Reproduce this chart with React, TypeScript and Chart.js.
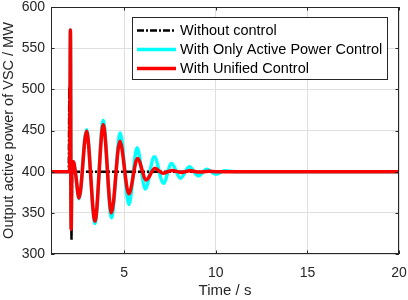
import React, { useEffect, useRef } from "react";
import { Chart, registerables } from "chart.js";

Chart.register(...registerables);

// ---- data ----
const timeWithout = [1, 1.97, 2.0, 2.12, 2.15, 20];
const powerWithout = [400, 400, 503, 317, 400, 400];

const timeActive = [1, 2.02, 2.06, 2.1, 2.14, 2.22, 2.35, 2.53, 2.94, 3.4, 3.85, 4.3, 4.78, 5.25, 5.7, 6.15, 6.64, 7.14, 7.58, 8.07, 8.55, 9.04, 9.5, 10.0, 10.5, 11.0, 20];
const powerActive = [400, 400, 572, 330, 405, 412, 396, 367, 451, 337, 462, 344, 447, 360, 429, 379, 418, 386, 410, 392, 406, 395, 403, 397, 401, 400, 400];

const timeUnified = [1, 2.02, 2.06, 2.1, 2.14, 2.22, 2.35, 2.53, 2.94, 3.4, 3.85, 4.3, 4.76, 5.25, 5.72, 6.2, 6.67, 7.1, 7.6, 8.1, 8.6, 9.1, 9.6, 10.1, 20];
const powerUnified = [400, 400, 572, 330, 405, 412, 396, 368, 449, 340, 457, 350, 437, 373, 416, 390, 404, 398, 401.5, 399, 401, 399.5, 400.5, 400, 400];

const seriesNames = ["Without control", "With Only Active Power Control", "With Unified Control"];
const xTicks = [5, 10, 15, 20];
const yTicks = [300, 350, 400, 450, 500, 550, 600];
const xLabel = "Time / s";
const yLabel = "Output active power of VSC / MW";

const FONT = "'Liberation Sans', Arial, Helvetica, sans-serif";
const AXIS = "#262626";

const toPoints = (xs: number[], ys: number[]) => xs.map((x, i) => ({ x, y: ys[i] }));

const boxPlugin = {
  id: "matlabBox",
  afterDatasetsDraw(chart: any) {
    const { ctx, chartArea: a, scales } = chart;
    ctx.save();
    ctx.strokeStyle = AXIS;
    ctx.lineWidth = 1;
    ctx.strokeRect(Math.round(a.left) + 0.5, Math.round(a.top) + 0.5, Math.round(a.right - a.left) - 1, Math.round(a.bottom - a.top) - 1);
    const tl = 3.5;
    ctx.beginPath();
    xTicks.forEach((v) => {
      const px = Math.round(scales.x.getPixelForValue(v)) + 0.5;
      ctx.moveTo(px, a.bottom);
      ctx.lineTo(px, a.bottom - tl);
      ctx.moveTo(px, a.top);
      ctx.lineTo(px, a.top + tl);
    });
    yTicks.forEach((v) => {
      const py = Math.round(scales.y.getPixelForValue(v)) + 0.5;
      ctx.moveTo(a.left, py);
      ctx.lineTo(a.left + tl, py);
      ctx.moveTo(a.right, py);
      ctx.lineTo(a.right - tl, py);
    });
    ctx.stroke();

    // legend (inside the axes, top right)
    const lx = 132.5, ly = 17.5, lw = 255, lh = 62;
    ctx.fillStyle = "#ffffff";
    ctx.fillRect(lx, ly, lw, lh);
    ctx.strokeStyle = AXIS;
    ctx.lineWidth = 1;
    ctx.strokeRect(lx, ly, lw, lh);
    const order = [1, 2, 0]; // dataset indices for black, cyan, red
    order.forEach((di, row) => {
      const ds = chart.data.datasets[di];
      const y = 30.5 + row * 19;
      ctx.save();
      ctx.strokeStyle = ds.borderColor;
      ctx.lineWidth = ds.borderWidth;
      ctx.setLineDash(ds.borderDash || []);
      ctx.beginPath();
      ctx.moveTo(137, y);
      ctx.lineTo(176, y);
      ctx.stroke();
      ctx.restore();
      ctx.fillStyle = "#000000";
      ctx.font = `14.5px ${FONT}`;
      ctx.textBaseline = "middle";
      ctx.textAlign = "left";
      ctx.fillText(ds.label, 180, y + 0.5);
    });
    ctx.restore();
  },
};

export default function App() {
  const ref = useRef<HTMLCanvasElement | null>(null);

  useEffect(() => {
    if (!ref.current) return;
    const chart = new Chart(ref.current, {
      type: "line",
      data: {
        datasets: [
          {
            label: seriesNames[2],
            data: toPoints(timeUnified, powerUnified),
            borderColor: "#ff0000",
            borderWidth: 3.5,
            pointRadius: 0,
            cubicInterpolationMode: "monotone",
            clip: 0,
          },
          {
            label: seriesNames[0],
            data: toPoints(timeWithout, powerWithout),
            borderColor: "#000000",
            borderWidth: 2.5,
            borderDash: [7, 2, 2, 2],
            pointRadius: 0,
            tension: 0,
            clip: 0,
          },
          {
            label: seriesNames[1],
            data: toPoints(timeActive, powerActive),
            borderColor: "#00ffff",
            borderWidth: 3.5,
            pointRadius: 0,
            cubicInterpolationMode: "monotone",
            clip: 0,
          },
        ],
      } as any,
      options: {
        animation: false,
        responsive: false,
        devicePixelRatio: 1,
        layout: { padding: { left: 0, top: 7, right: 9, bottom: 0 } },
        plugins: { legend: { display: false }, tooltip: { enabled: false } },
        scales: {
          x: {
            type: "linear",
            min: 1,
            max: 20,
            afterBuildTicks: (s: any) => {
              s.ticks = xTicks.map((v) => ({ value: v }));
            },
            afterFit: (s: any) => {
              s.height = 46;
              s.paddingLeft = 0;
              s.paddingRight = 0;
            },
            grid: { color: "#dfdfdf", drawTicks: false },
            border: { display: false },
            ticks: {
              color: AXIS,
              font: { family: FONT, size: 14 },
              padding: 11,
              maxRotation: 0,
              callback: (v: any) => String(v),
            },
            title: {
              display: true,
              text: xLabel,
              color: AXIS,
              font: { family: FONT, size: 15 },
              padding: 0,
            },
          },
          y: {
            type: "linear",
            min: 300,
            max: 600,
            afterBuildTicks: (s: any) => {
              s.ticks = yTicks.map((v) => ({ value: v }));
            },
            afterFit: (s: any) => {
              s.width = 51;
              s.paddingTop = 0;
              s.paddingBottom = 0;
            },
            grid: { color: "#dfdfdf", drawTicks: false },
            border: { display: false },
            ticks: {
              color: AXIS,
              font: { family: FONT, size: 14 },
              padding: 6,
              callback: (v: any) => String(v),
            },
            title: {
              display: true,
              text: yLabel,
              color: AXIS,
              font: { family: FONT, size: 14.5 },
              padding: 0,
            },
          },
        },
      } as any,
      plugins: [boxPlugin],
    });
    return () => chart.destroy();
  }, []);

  return (
    <div style={{ position: "fixed", left: 0, top: 0, width: 408, height: 300, background: "#ffffff" }}>
      <canvas ref={ref} width={408} height={300} />
    </div>
  );
}
